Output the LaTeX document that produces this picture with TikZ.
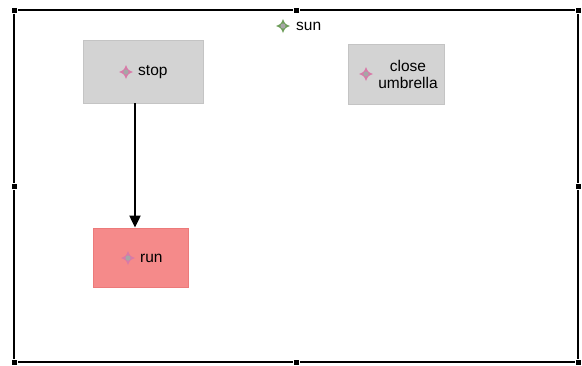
\documentclass[tikz,border=0pt]{standalone}
\usepackage{fontspec}
\setmainfont{Liberation Sans}
\usetikzlibrary{arrows.meta}
\definecolor{boxgray}{HTML}{D3D3D3}
\definecolor{boxgrayline}{HTML}{C4C4C4}
\definecolor{runfill}{HTML}{F58A8A}
\definecolor{runline}{HTML}{EC7A7A}
\definecolor{pinkstar}{HTML}{D87AA8}
\definecolor{greenstar}{HTML}{6E9E5A}
\tikzset{
  box/.style={draw=boxgrayline, fill=boxgray, line width=0.8pt, inner sep=0pt},
  runbox/.style={draw=runline, fill=runfill, line width=0.8pt, inner sep=0pt},
  lbl/.style={font=\fontsize{15.5}{17.5}\selectfont, text=black, inner sep=0pt, align=center},
  frameline/.style={line width=2pt, black},
  handle/.style={fill=black, draw=white, line width=1pt, minimum size=6pt, inner sep=0pt},
  sparkle/.pic={
    \fill[#1] (0,-7) .. controls (2,-2) .. (7,0) .. controls (2,2) .. (0,7)
      .. controls (-2,2) .. (-7,0) .. controls (-2,-2) .. (0,-7);
    \fill[gray!70] (0,0) circle (2.6);
  },
  conn/.style={line width=2pt, -{Triangle[length=12pt,width=11pt]}}
}
\begin{document}
\begin{tikzpicture}[x=1pt,y=-1pt]
\useasboundingbox (0,0) rectangle (582,365);
% frame
\coordinate (tl) at (14,10);
\coordinate (tr) at (578,10);
\coordinate (bl) at (14,362);
\coordinate (br) at (578,362);
\draw[frameline] (tl) -- (tr) -- (br) -- (bl) -- cycle;
\foreach \n/\p in {h1/{(14,10)},h2/{(296,10)},h3/{(578,10)},h4/{(14,186)},h5/{(578,186)},h6/{(14,362)},h7/{(296,362)},h8/{(578,362)}}
  \node[handle] (\n) at \p {};
% sun
\pic at (283,26) {sparkle=greenstar};
\node[lbl, anchor=west] (sun) at (296,26) {sun};
% stop
\node[box, minimum width=120pt, minimum height=63pt] (stop) at (143,71.5) {};
\pic at (126,72) {sparkle=pinkstar};
\node[lbl, anchor=west] (stoptxt) at (138,72) {stop};
% close umbrella
\node[box, minimum width=96pt, minimum height=60pt] (close) at (396,74) {};
\pic at (366,74) {sparkle=pinkstar};
\node[lbl] (closetxt) at (408,74.5) {close\\umbrella};
% run
\node[runbox, minimum width=95pt, minimum height=59pt] (run) at (140.5,257.5) {};
\pic at (128,258) {sparkle=pinkstar};
\node[lbl, anchor=west] (runtxt) at (140,258) {run};
% connector
\draw[conn] ([xshift=-8pt]stop.south) -- ([xshift=-5.5pt]run.north);
\end{tikzpicture}
\end{document}
